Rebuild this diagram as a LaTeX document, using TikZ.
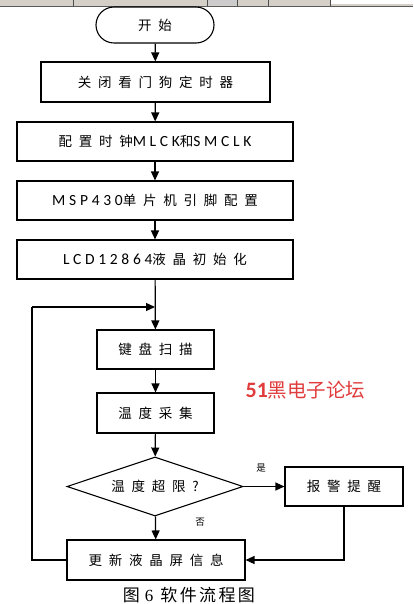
\documentclass[tikz,border=0pt]{standalone}
\usepackage{fontspec}
\usetikzlibrary{shapes.geometric,arrows.meta}
\setmainfont{Noto Sans CJK SC}
\newfontfamily\boxfont[LetterSpace=50]{Noto Sans CJK SC}
\newfontfamily\latfont[LetterSpace=24]{Carlito}
\newfontfamily\plainfont{Noto Sans CJK SC}
\newfontfamily\capfont[LetterSpace=14]{Noto Sans CJK SC}
\newfontfamily\serifdigit{Liberation Serif}
\newfontfamily\wmlat{Carlito}
\newcommand{\lat}[1]{{\latfont\fontsize{15.5}{15}\selectfont #1}}
\definecolor{wmred}{HTML}{E03C3C}
\definecolor{bargray}{HTML}{D4D0C8}
\tikzset{
  flowbox/.style={draw, line width=1.1pt, inner sep=0pt, font=\boxfont\fontsize{13.5}{15}\selectfont},
  termbox/.style={flowbox, rounded corners=18pt},
  decbox/.style={flowbox, diamond, aspect=3},
  arr/.style={line width=1.2pt, -{Triangle[length=9pt,width=8pt]}},
  ln/.style={line width=1.2pt},
  lab/.style={font=\plainfont\fontsize{9.5}{10}\selectfont, inner sep=0pt}
}
\begin{document}
\begin{tikzpicture}[x=1pt,y=-1pt]
\useasboundingbox (0,0) rectangle (413,604);
% toolbar remnant
\fill[bargray] (0,0) rectangle (413,6);
\fill[white] (330,0) rectangle (413,4);
\fill[gray!40] (207,0) rectangle (237,5);
\draw[gray!70!black, line width=0.8pt] (0,6.5) -- (413,6.5);
\foreach \xx in {73,207,237,268,330} \draw[gray!60!black, line width=0.6pt] (\xx,0) -- (\xx,6);
% nodes
\node[termbox, minimum width=118pt, minimum height=36pt] (start) at (155,25) {开始};
\node[flowbox, minimum width=229pt, minimum height=40pt] (b1) at (155.5,82) {关闭看门狗定时器};
\node[flowbox, minimum width=276pt, minimum height=39pt] (b2) at (155,141.5) {配置时钟\lat{MLCK}和\lat{SMCLK}};
\node[flowbox, minimum width=276pt, minimum height=39pt] (b3) at (155,200.5) {\lat{MSP430}单片机引脚配置};
\node[flowbox, minimum width=276pt, minimum height=39pt] (b4) at (155,259.5) {\lat{LCD12864}液晶初始化};
\node[flowbox, minimum width=117pt, minimum height=39pt] (b5) at (155.5,349.5) {键盘扫描};
\node[flowbox, minimum width=117pt, minimum height=40pt] (b6) at (155.5,413) {温度采集};
\node[decbox, minimum width=176pt, minimum height=59pt] (dia) at (155,486.5) {温度超限?};
\node[flowbox, minimum width=118pt, minimum height=39pt] (alarm) at (344,486.5) {报警提醒};
\node[flowbox, minimum width=178pt, minimum height=40pt] (b7) at (156,560) {更新液晶屏信息};
\coordinate (merge) at (155,307);
\coordinate (lb) at (32,560);
\coordinate (lt) at (32,307);
\coordinate (ar) at (344,560);
% labels
\node[lab] (yes) at (261,468) {是};
\node[lab] (no) at (200,522) {否};
\node[font=\plainfont\fontsize{19.5}{21}\selectfont, text=wmred, inner sep=0pt] (wm) at (305.5,390) {{\wmlat\bfseries\fontsize{22}{22}\selectfont 51}黑电子论坛};
\node[font=\capfont\fontsize{17}{18}\selectfont, inner sep=0pt, anchor=north] (cap) at (189,587) {图{\serifdigit\hspace{5pt}6\hspace{7pt}}软件流程图};
% connectors
\draw[arr] (start) -- (b1);
\draw[arr] (b1) -- (b2);
\draw[arr] (b2) -- (b3);
\draw[arr] (b3) -- (b4);
\draw[arr] (b4) -- (b5);
\draw[arr] (b5) -- (b6);
\draw[arr] (b6) -- (dia);
\draw[arr] (dia) -- (b7);
\draw[arr] (dia) -- (alarm);
\draw[arr] (alarm.south) -- (ar) -- (b7.east);
\draw[ln] (b7.west) -- (lb) -- (lt);
\draw[arr] (lt) -- (merge);
\end{tikzpicture}
\end{document}
